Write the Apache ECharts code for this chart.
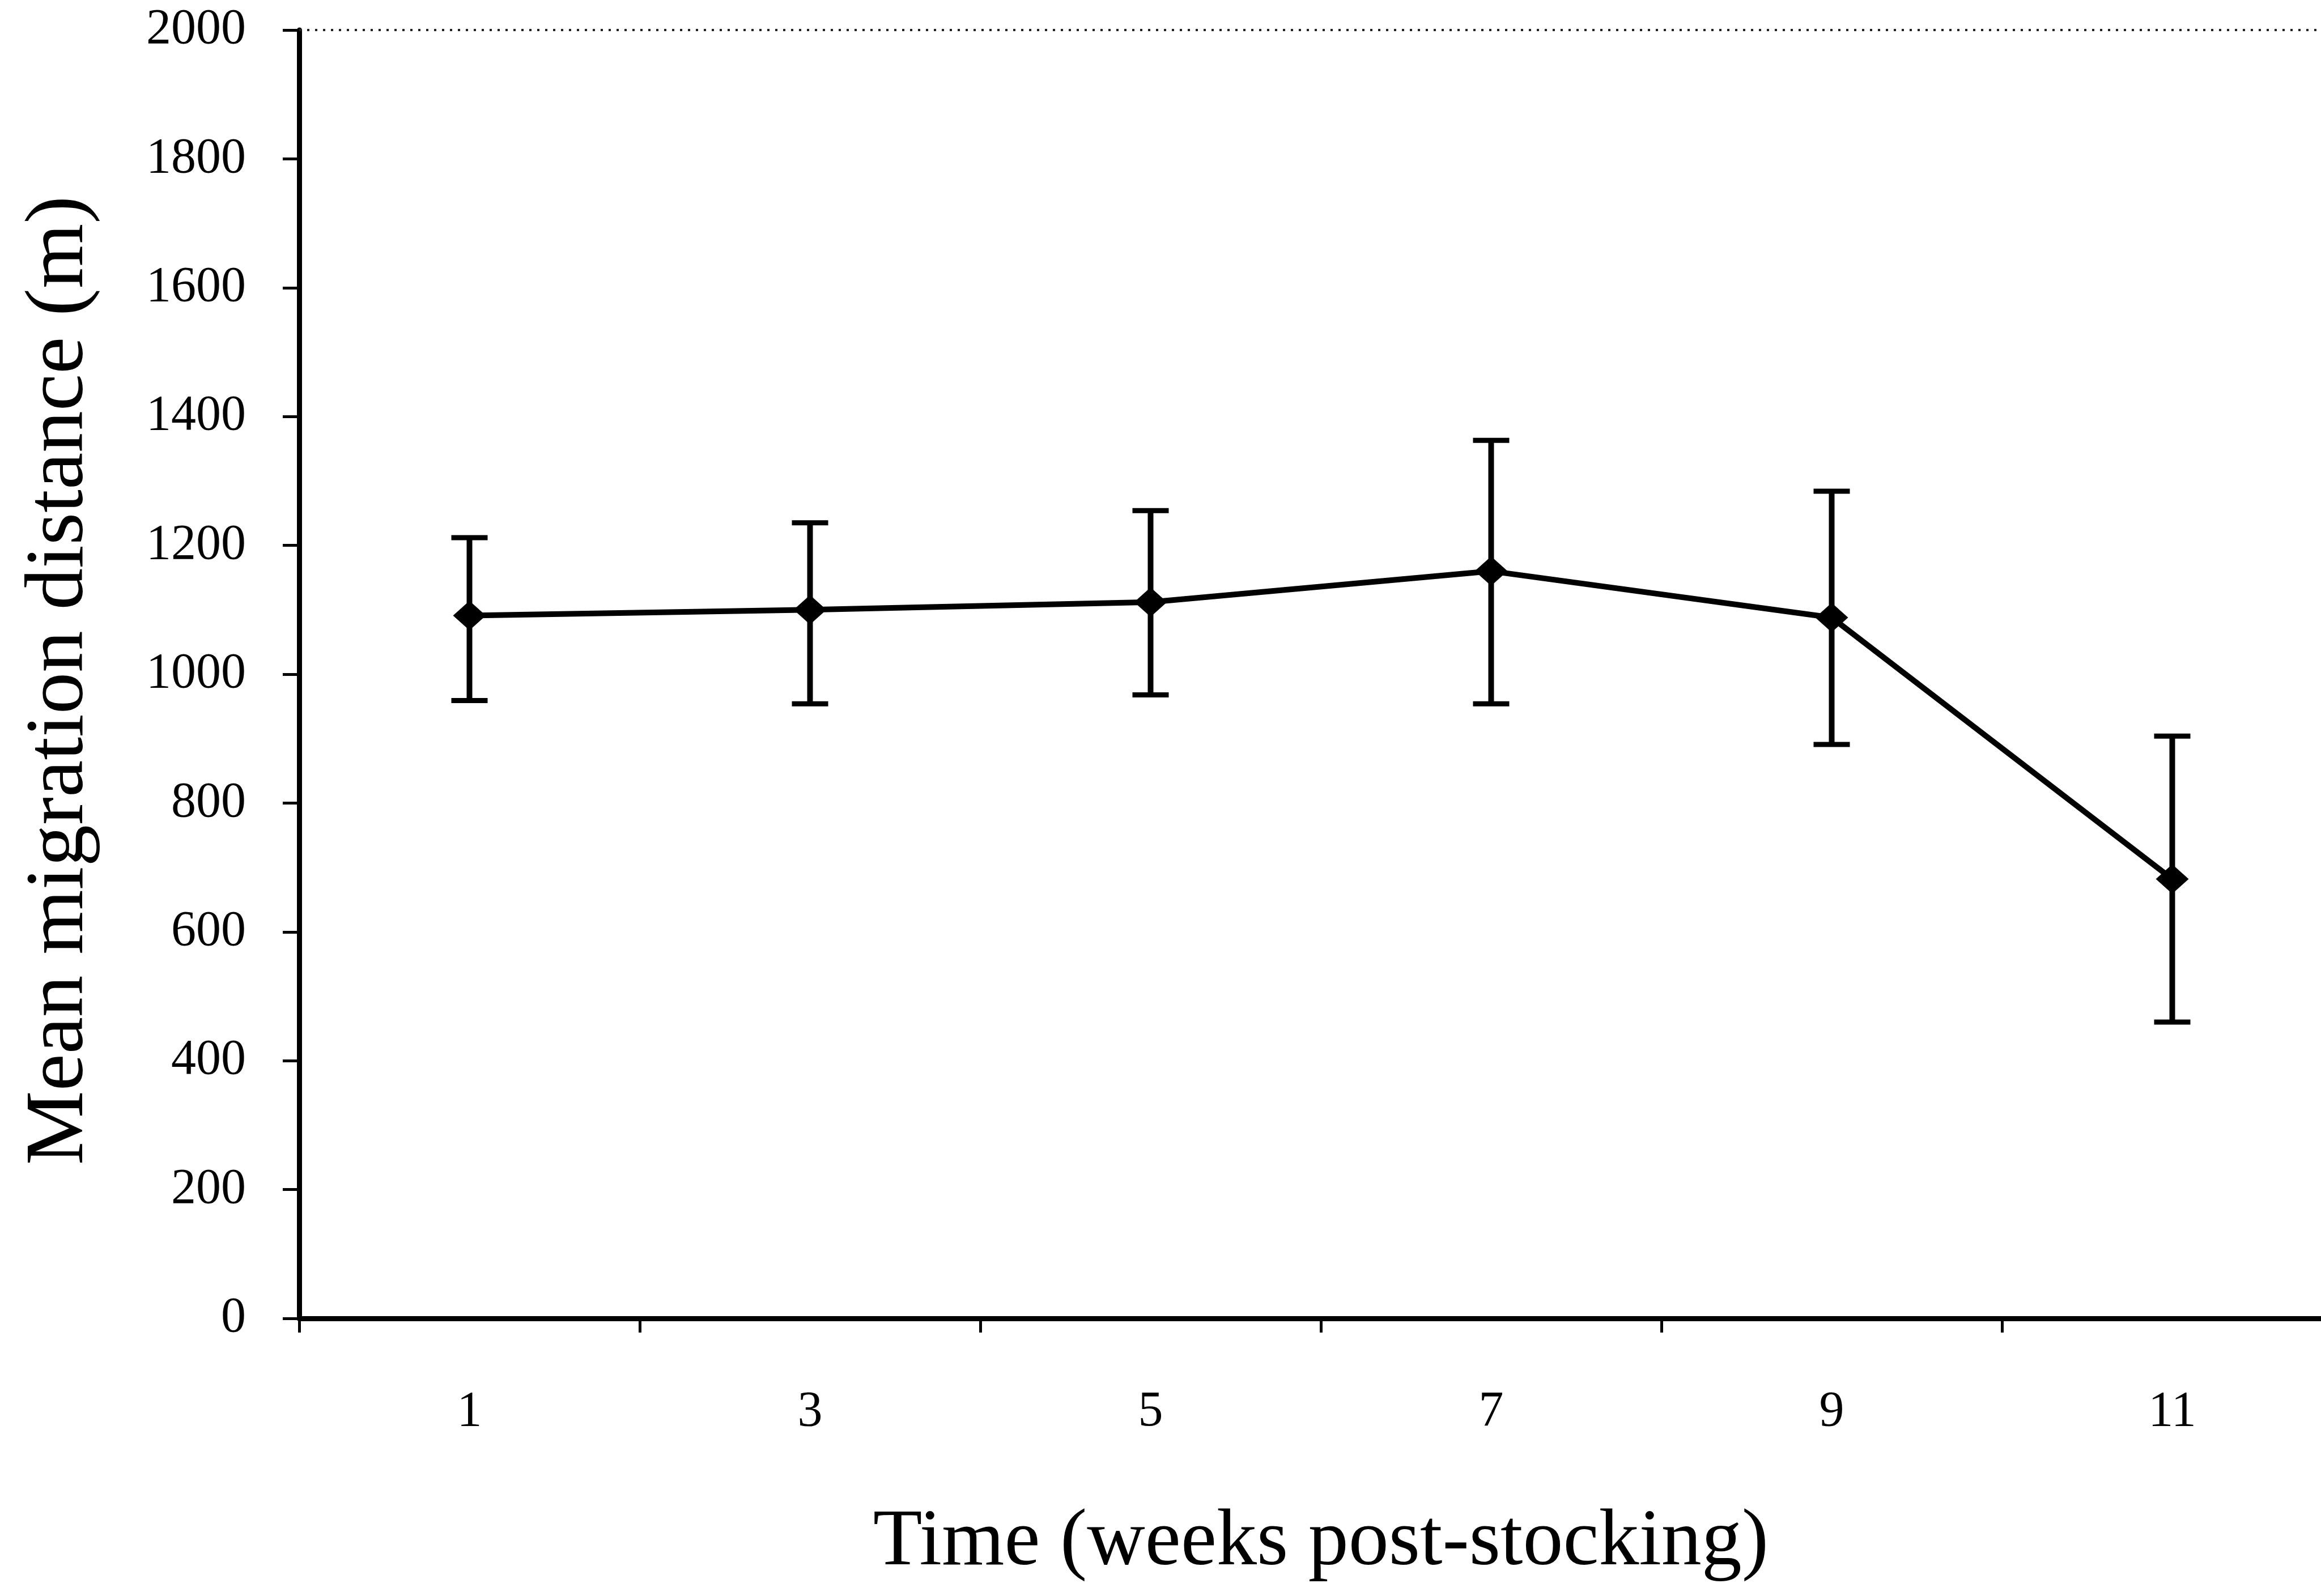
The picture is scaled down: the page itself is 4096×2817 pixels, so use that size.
<!DOCTYPE html>
<html>
<head>
<meta charset="utf-8">
<title>Mean migration distance</title>
<script src="https://cdn.jsdelivr.net/npm/echarts@6/dist/echarts.min.js"></script>
<style>
  html, body { margin: 0; padding: 0; background: #ffffff; }
  #chart { width: 4096px; height: 2817px; }
</style>
</head>
<body>
<div id="chart"></div>
<script>
// Weeks after stocking (category axis)
const weeks = ['1', '3', '5', '7', '9', '11'];
// Mean migration distance (m) with the ends of the error bars
const meanDistance = [1091, 1100, 1112, 1160, 1088, 682];
const upperBound = [1212, 1235, 1254, 1363, 1284, 904];
const lowerBound = [959, 954, 968, 954, 891, 460];
// Value axis range and step
const yMin = 0;
const yMax = 2000;
const yStep = 200;

const serif = 'Liberation Serif';
const ink = '#000000';

const errorData = weeks.map((w, i) => [i, lowerBound[i], upperBound[i]]);

const chart = echarts.init(document.getElementById('chart'), null, { renderer: 'canvas' });

chart.setOption({
  animation: false,
  backgroundColor: '#ffffff',
  // plot area runs a little past the right edge of the page
  grid: { left: 528, width: 3606, top: 53, height: 2274, containLabel: false, outerBoundsMode: 'none' },
  xAxis: {
    type: 'category',
    data: weeks,
    boundaryGap: true,
    name: 'Time (weeks post-stocking)',
    nameLocation: 'middle',
    nameGap: 326,
    nameTextStyle: { fontFamily: serif, fontSize: 142, color: ink, lineHeight: 142 },
    axisLine: { show: true, lineStyle: { color: ink, width: 9 } },
    axisTick: { show: true, alignWithLabel: false, length: 25, lineStyle: { color: ink, width: 5 } },
    axisLabel: { fontFamily: serif, fontSize: 88, color: ink, margin: 122, lineHeight: 88 },
    splitLine: { show: false }
  },
  yAxis: {
    type: 'value',
    min: yMin,
    max: yMax,
    interval: yStep,
    name: 'Mean migration distance (m)',
    nameLocation: 'middle',
    nameGap: 348,
    nameTextStyle: { fontFamily: serif, fontSize: 147, color: ink, lineHeight: 147, padding: [0, 22, 0, 0] },
    axisLine: { show: true, lineStyle: { color: ink, width: 9 } },
    axisTick: { show: true, length: 29, lineStyle: { color: ink, width: 5 } },
    axisLabel: {
      fontFamily: serif, fontSize: 88, color: ink, margin: 94, lineHeight: 88, padding: [24, 0, 0, 0],
      formatter: function (v) { return String(v); }
    },
    splitLine: { show: false }
  },
  series: [
    {
      // vertical error bars with end caps
      type: 'custom',
      z: 2,
      data: errorData,
      renderItem: function (params, api) {
        const idx = api.value(0);
        const top = api.coord([idx, api.value(2)]);
        const bottom = api.coord([idx, api.value(1)]);
        const half = 32;
        const style = { stroke: ink, lineWidth: 9, fill: null };
        return {
          type: 'group',
          children: [
            { type: 'line', shape: { x1: top[0], y1: top[1], x2: bottom[0], y2: bottom[1] }, style: Object.assign({}, style, { lineWidth: 10 }) },
            { type: 'line', shape: { x1: top[0] - half, y1: top[1], x2: top[0] + half, y2: top[1] }, style: style },
            { type: 'line', shape: { x1: bottom[0] - half, y1: bottom[1], x2: bottom[0] + half, y2: bottom[1] }, style: style }
          ]
        };
      }
    },
    {
      type: 'line',
      z: 3,
      data: meanDistance,
      symbol: 'diamond',
      symbolSize: [58, 52],
      showSymbol: true,
      itemStyle: { color: ink, borderWidth: 0 },
      lineStyle: { color: ink, width: 10 },
      markLine: {
        silent: true,
        symbol: 'none',
        label: { show: false },
        lineStyle: { color: '#222222', width: 4, type: [4, 10] },
        data: [{ yAxis: yMax }]
      }
    }
  ]
});
</script>
</body>
</html>
